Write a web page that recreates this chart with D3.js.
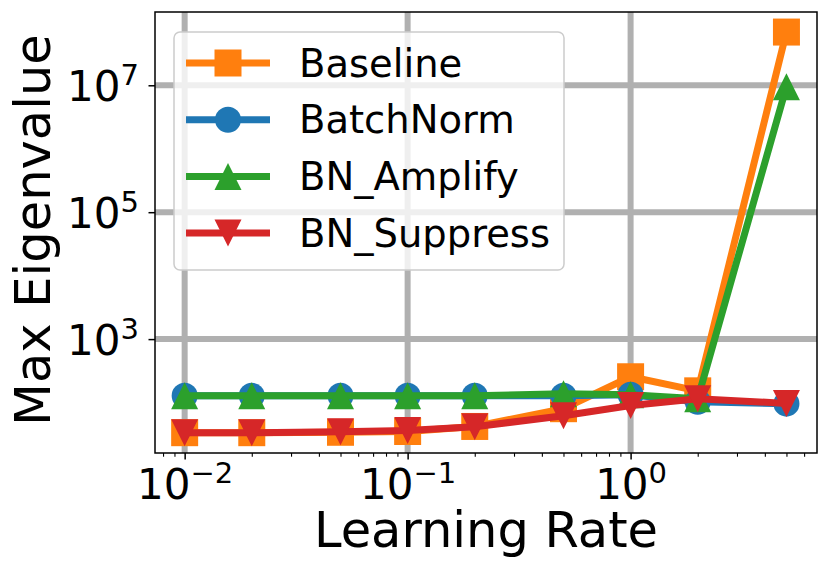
<!DOCTYPE html>
<html>
<head>
<meta charset="utf-8">
<script src="https://cdn.jsdelivr.net/npm/d3@7"></script>
<style>
  body { margin: 0; background: #fff; }
  svg { display: block; }
</style>
</head>
<body>
<div id="chart"></div>
<script>
// learning rates on the x axis
const learningRates = [0.01, 0.02, 0.05, 0.1, 0.2, 0.5, 1, 2, 5];

// max eigenvalue per run
const baseline   = [33.5, 33.5, 34, 35, 42, 80, 255, 153, 6.9e7];
const batchNorm  = [128, 128, 128, 128, 128, 128, 133, 103, 96];
const bnAmplify  = [128, 128, 128, 128, 128, 138, 133, 115, 9.5e6];
const bnSuppress = [33.5, 33.5, 34.6, 36.4, 41.6, 62, 90, 115, 97];

const seriesNames = ['Baseline', 'BatchNorm', 'BN_Amplify', 'BN_Suppress'];
const seriesValues = [baseline, batchNorm, bnAmplify, bnSuppress];

const xTickValues = [0.01, 0.1, 1];
const xTickExps = ['\u22122', '\u22121', '0'];
const yTickValues = [1e3, 1e5, 1e7];
const yTickExps = ['3', '5', '7'];

const colors = ['#ff7f0e', '#1f77b4', '#2ca02c', '#d62728'];
const markers = ['square', 'circle', 'triangleUp', 'triangleDown'];

const font = '"DejaVu Sans", sans-serif';
const width = 830, height = 574;
const margin = {top: 12, right: 13, bottom: 121, left: 155};
const w = width - margin.left - margin.right;
const h = height - margin.top - margin.bottom;

const svg = d3.select('#chart').append('svg')
    .attr('width', width)
    .attr('height', height)
    .attr('font-family', font);

svg.append('rect').attr('width', width).attr('height', height).attr('fill', '#fff');

const g = svg.append('g').attr('transform', `translate(${margin.left},${margin.top})`);

const x = d3.scaleLog()
    .domain([Math.pow(10, -2.133), Math.pow(10, 0.836)])
    .range([0, w]);

const y = d3.scaleLog()
    .domain([Math.pow(10, 1.205), Math.pow(10, 8.155)])
    .range([h, 0]);

// grid
g.append('g').selectAll('line')
    .data(xTickValues)
    .enter().append('line')
    .attr('x1', d => x(d)).attr('x2', d => x(d))
    .attr('y1', 0).attr('y2', h)
    .attr('stroke', '#b0b0b0').attr('stroke-width', 6);

g.append('g').selectAll('line')
    .data(yTickValues)
    .enter().append('line')
    .attr('x1', 0).attr('x2', w)
    .attr('y1', d => y(d)).attr('y2', d => y(d))
    .attr('stroke', '#b0b0b0').attr('stroke-width', 6);

// marker shapes, sizes in px
const markerPath = function(type, s) {
    const r = s / 2;
    if (type === 'square') return `M${-r},${-r}H${r}V${r}H${-r}Z`;
    if (type === 'circle') return d3.symbol().type(d3.symbolCircle).size(Math.PI * r * r)();
    if (type === 'triangleUp') return `M0,${-r}L${r},${r}L${-r},${r}Z`;
    return `M0,${r}L${r},${-r}L${-r},${-r}Z`;
};
const markerSizes = {square: 27, circle: 26, triangleUp: 27, triangleDown: 27};

const line = d3.line()
    .x(d => x(d[0]))
    .y(d => y(d[1]));

seriesValues.forEach((vals, i) => {
    const pts = learningRates.map((lr, j) => [lr, vals[j]]);
    const sg = g.append('g').attr('class', 'series');
    sg.append('path')
        .datum(pts)
        .attr('d', line)
        .attr('fill', 'none')
        .attr('stroke', colors[i])
        .attr('stroke-width', 7)
        .attr('stroke-linejoin', 'round');
    sg.selectAll('.pt')
        .data(pts)
        .enter().append('path')
        .attr('class', 'pt')
        .attr('transform', d => `translate(${x(d[0])},${y(d[1])})`)
        .attr('d', markerPath(markers[i], markerSizes[markers[i]]))
        .attr('fill', colors[i]);
});

// axes
const xMinor = [];
[0.001, 0.01, 0.1, 1].forEach(dec => {
    for (let k = 2; k <= 9; k++) {
        const v = dec * k;
        if (v >= x.domain()[0] && v <= x.domain()[1]) xMinor.push(v);
    }
});

const xAxisG = g.append('g')
    .attr('transform', `translate(0,${h})`)
    .call(d3.axisBottom(x).tickValues(xTickValues).tickSize(6.5).tickFormat(''))
    .attr('font-family', font);
xAxisG.select('.domain').remove();
xAxisG.selectAll('.tick line').attr('stroke', '#000').attr('stroke-width', 1.5);

g.append('g')
    .attr('transform', `translate(0,${h})`)
    .call(d3.axisBottom(x).tickValues(xMinor).tickSize(3.7).tickFormat(''))
    .call(a => a.select('.domain').remove())
    .selectAll('.tick line').attr('stroke', '#000').attr('stroke-width', 1.1);

xAxisG.selectAll('.tick').each(function(d, i) {
    const t = d3.select(this).append('text')
        .attr('y', 46)
        .attr('text-anchor', 'middle')
        .attr('fill', '#000')
        .attr('font-size', 42);
    t.append('tspan').text('10');
    t.append('tspan').attr('dy', -16).attr('font-size', 29).text(xTickExps[i]);
});

const yAxisG = g.append('g')
    .call(d3.axisLeft(y).tickValues(yTickValues).tickSize(6.5).tickFormat(''))
    .attr('font-family', font);
yAxisG.select('.domain').remove();
yAxisG.selectAll('.tick line').attr('stroke', '#000').attr('stroke-width', 1.5);

yAxisG.selectAll('.tick').each(function(d, i) {
    const t = d3.select(this).append('text')
        .attr('x', -16)
        .attr('y', 15.5)
        .attr('text-anchor', 'end')
        .attr('fill', '#000')
        .attr('font-size', 42);
    t.append('tspan').text('10');
    t.append('tspan').attr('dy', -16).attr('font-size', 29).text(yTickExps[i]);
});

// frame
g.append('rect')
    .attr('width', w).attr('height', h)
    .attr('fill', 'none')
    .attr('stroke', '#000')
    .attr('stroke-width', 1.5);

// axis labels
svg.append('text')
    .attr('x', margin.left + w / 2)
    .attr('y', 547)
    .attr('text-anchor', 'middle')
    .attr('font-size', 49.5)
    .text('Learning Rate');

svg.append('text')
    .attr('transform', 'translate(50,230) rotate(-90)')
    .attr('text-anchor', 'middle')
    .attr('font-size', 49.5)
    .text('Max Eigenvalue');

// legend
const legend = svg.append('g').attr('transform', 'translate(174,32)');
legend.append('rect')
    .attr('width', 390).attr('height', 238)
    .attr('rx', 6)
    .attr('fill', '#fff').attr('fill-opacity', 0.8)
    .attr('stroke', '#cccccc').attr('stroke-width', 1.5);

seriesNames.forEach((name, i) => {
    const row = legend.append('g').attr('transform', `translate(0,${31 + i * 56.7})`);
    row.append('line')
        .attr('x1', 12).attr('x2', 96)
        .attr('stroke', colors[i]).attr('stroke-width', 7);
    row.append('path')
        .attr('transform', 'translate(54,0)')
        .attr('d', markerPath(markers[i], markerSizes[markers[i]]))
        .attr('fill', colors[i]);
    row.append('text')
        .attr('x', 125)
        .attr('y', 13.5)
        .attr('font-size', 38.5)
        .text(name);
});
</script>
</body>
</html>
